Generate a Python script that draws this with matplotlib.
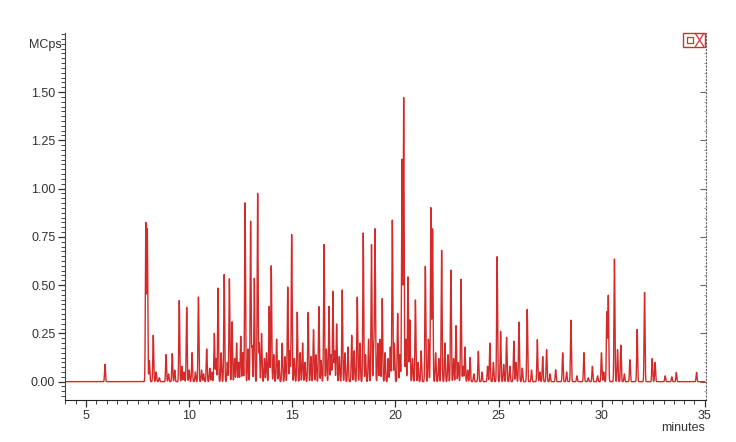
import numpy as np
from matplotlib import pyplot as plt
from matplotlib.patches import Rectangle
from matplotlib.lines import Line2D
from matplotlib.ticker import MultipleLocator, FixedLocator, FormatStrFormatter

# main peaks: retention time (min), height (MCps)
peak_times = [5.92, 7.90, 7.97, 8.07, 8.26, 8.88, 9.18, 9.52, 9.88, 10.14, 10.45,
              10.85, 11.22, 11.40, 11.70, 11.95, 12.08, 12.30, 12.50, 12.71, 12.98,
              13.16, 13.32, 13.51, 13.88, 13.98, 14.24, 14.51, 14.78, 14.97, 15.24,
              15.50, 15.77, 16.03, 16.29, 16.54, 16.78, 16.97, 17.15, 17.42, 17.88,
              18.15, 18.44, 18.84, 19.01, 19.36, 19.85, 20.11, 20.32, 20.40, 20.61,
              20.70, 20.97, 21.45, 21.72, 21.80, 22.24, 22.69, 22.94, 23.18, 23.37,
              23.62, 24.02, 24.47, 24.58, 24.93, 25.10, 25.39, 25.74, 25.99, 26.39,
              26.88, 27.14, 27.33, 27.77, 28.11, 28.51, 29.14, 29.55, 29.99, 30.25,
              30.32, 30.62, 30.77, 30.93, 31.37, 31.72, 32.08, 32.45, 32.59, 33.08,
              33.40, 33.62, 34.60]
peak_heights = [0.09, 0.82, 0.79, 0.11, 0.24, 0.14, 0.145, 0.42, 0.385, 0.15, 0.44,
                0.17, 0.25, 0.485, 0.555, 0.535, 0.31, 0.20, 0.235, 0.93, 0.83,
                0.535, 0.975, 0.25, 0.39, 0.60, 0.22, 0.20, 0.49, 0.765, 0.36,
                0.20, 0.36, 0.27, 0.39, 0.71, 0.39, 0.47, 0.30, 0.475, 0.24,
                0.44, 0.77, 0.71, 0.79, 0.43, 0.84, 0.355, 1.15, 1.47, 0.545,
                0.32, 0.425, 0.60, 0.90, 0.79, 0.68, 0.58, 0.29, 0.53, 0.18,
                0.125, 0.157, 0.08, 0.20, 0.65, 0.26, 0.23, 0.21, 0.31, 0.376,
                0.217, 0.13, 0.166, 0.062, 0.15, 0.32, 0.15, 0.08, 0.15, 0.36,
                0.445, 0.635, 0.166, 0.19, 0.114, 0.27, 0.462, 0.12, 0.10, 0.03,
                0.025, 0.048, 0.048]

# small peaks filling the crowded middle of the run
minor_times = [8.40, 8.55, 9.00, 9.30, 9.65, 9.75, 10.00, 10.30, 10.60, 10.70, 11.00,
               11.10, 11.30, 11.55, 11.85, 12.20, 12.40, 12.60, 12.85, 13.05, 13.40,
               13.65, 13.75, 14.10, 14.35, 14.65, 14.88, 15.10, 15.38, 15.62, 15.90,
               16.15, 16.40, 16.65, 16.88, 17.05, 17.28, 17.55, 17.70, 18.00, 18.28,
               18.55, 18.70, 18.95, 19.15, 19.25, 19.50, 19.65, 19.75, 19.95, 20.22,
               20.50, 20.83, 21.10, 21.25, 21.60, 21.95, 22.10, 22.40, 22.55, 22.82,
               23.05, 23.28, 23.50, 23.80, 24.20, 24.75, 25.25, 25.55, 25.85, 26.15,
               26.60, 27.00, 27.50, 28.30, 28.80, 29.35, 29.80, 30.10, 31.10]
minor_heights = [0.05, 0.02, 0.04, 0.06, 0.08, 0.05, 0.06, 0.05, 0.06, 0.04, 0.07,
                 0.05, 0.12, 0.15, 0.10, 0.12, 0.10, 0.15, 0.17, 0.18, 0.20,
                 0.12, 0.15, 0.14, 0.11, 0.13, 0.16, 0.12, 0.15, 0.10, 0.13,
                 0.14, 0.11, 0.17, 0.14, 0.16, 0.13, 0.15, 0.18, 0.16, 0.20,
                 0.14, 0.22, 0.18, 0.20, 0.22, 0.15, 0.12, 0.18, 0.20, 0.14,
                 0.22, 0.12, 0.10, 0.16, 0.22, 0.15, 0.12, 0.20, 0.14, 0.12,
                 0.10, 0.08, 0.06, 0.04, 0.05, 0.10, 0.09, 0.08, 0.10, 0.07,
                 0.06, 0.05, 0.04, 0.05, 0.03, 0.02, 0.03, 0.05, 0.04]

y_ticks = [0.0, 0.25, 0.5, 0.75, 1.0, 1.25, 1.5]

plt.rcParams['font.family'] = ['Liberation Sans', 'DejaVu Sans']

# trace on a fine time grid, each peak drawn as a narrow gaussian
t = np.arange(4.0, 35.0, 0.004)
signal = np.zeros_like(t)
for pt, ph in zip(peak_times + minor_times, peak_heights + minor_heights):
    signal += ph * np.exp(-0.5 * ((t - pt) / 0.022) ** 2)

fig = plt.figure(figsize=(7.36, 4.42), dpi=100)
ax = fig.add_axes([0.0883, 0.095, 0.8707, 0.830])
ax.plot(t, signal, color='#d42a2a', linewidth=1.0)

ax.set_xlim(3.98, 35.05)
ax.set_ylim(-0.095, 1.805)
ax.xaxis.set_major_locator(MultipleLocator(5))
ax.xaxis.set_minor_locator(MultipleLocator(0.5))
ax.yaxis.set_major_locator(FixedLocator(y_ticks))
ax.yaxis.set_minor_locator(MultipleLocator(0.025))
ax.yaxis.set_major_formatter(FormatStrFormatter('%.2f'))

ax.spines['top'].set_visible(False)
ax.spines['right'].set_visible(False)
ax.spines['left'].set_color('#444444')
ax.spines['bottom'].set_color('#222222')
ax.tick_params(axis='both', which='major', length=5, width=0.9, labelsize=9,
               colors='#333333', pad=2)
ax.tick_params(axis='both', which='minor', length=3, width=0.7, colors='#444444')

# dotted right-hand axis with inward ticks
sec = ax.secondary_yaxis('right')
sec.spines['right'].set_linestyle((0, (1, 2)))
sec.spines['right'].set_color('#666666')
sec.yaxis.set_major_locator(FixedLocator(y_ticks))
sec.yaxis.set_minor_locator(MultipleLocator(0.05))
sec.tick_params(which='major', direction='in', length=4, labelright=False, colors='#666666')
sec.tick_params(which='minor', direction='in', length=1.5, colors='#888888')

ax.text(-0.005, 0.967, 'MCps', transform=ax.transAxes, ha='right', va='center',
        fontsize=9, color='#333333')
fig.text(0.958, 0.032, 'minutes', ha='right', va='center', fontsize=9, color='#333333')

# small zoom box icon in the corner
fig.add_artist(Rectangle((0.928, 0.893), 0.030, 0.033, transform=fig.transFigure,
                         fill=False, edgecolor='#d03030', linewidth=1.0))
fig.add_artist(Rectangle((0.933, 0.902), 0.008, 0.014, transform=fig.transFigure,
                         fill=False, edgecolor='#d03030', linewidth=0.9))
fig.add_artist(Line2D([0.945, 0.956], [0.924, 0.895], transform=fig.transFigure,
                      color='#d03030', linewidth=0.9))
fig.add_artist(Line2D([0.945, 0.956], [0.895, 0.924], transform=fig.transFigure,
                      color='#d03030', linewidth=0.9))

fig.savefig('out.png', dpi=100)
